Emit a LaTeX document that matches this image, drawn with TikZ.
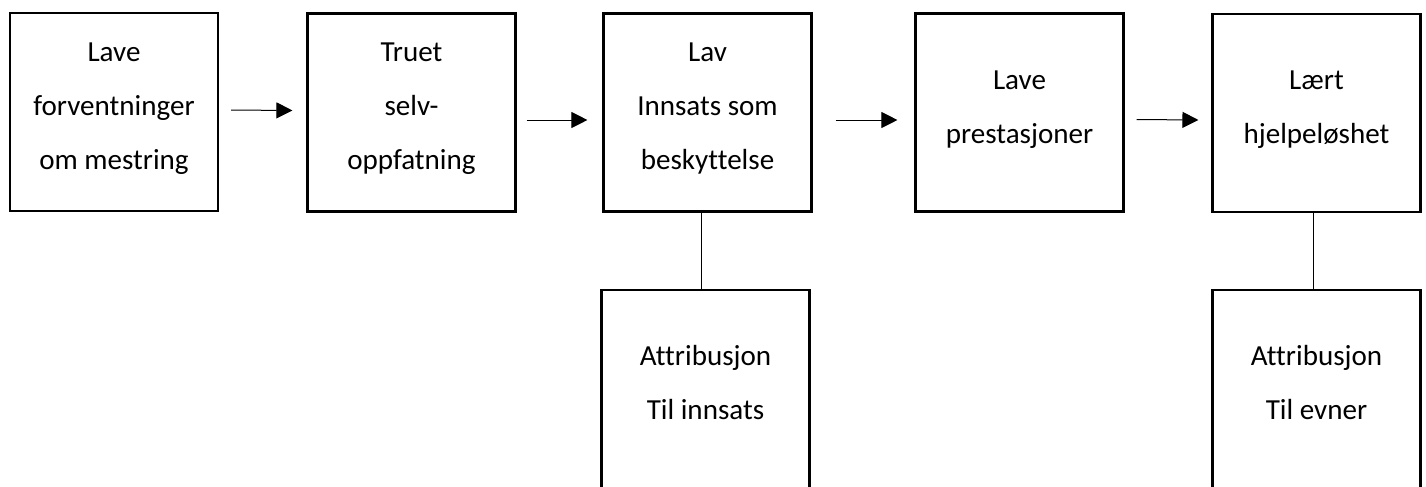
\documentclass[tikz,border=0pt]{standalone}
\usepackage{fontspec}
\setmainfont[Ligatures={NoCommon}]{Carlito}
\usetikzlibrary{arrows.meta,positioning}
\tikzset{
  box/.style={draw, line width=1.6pt, minimum width=156pt, minimum height=148.5pt},
  lowbox/.style={box, minimum height=187.5pt},
  txt/.style={anchor=north, align=center, inner sep=0pt, font=\fontsize{21.8}{40.5}\selectfont},
  arrow/.style={-{Triangle[length=12pt,width=12pt]}, line width=0.75pt},
  link/.style={line width=0.75pt}
}
\begin{document}
\begin{tikzpicture}[x=0.75pt, y=-0.75pt]
  \clip (0,0) rectangle (1426,486);
  % Bokser
  \node[box] (b1) at (114,112) {};
  \node[box] (b2) at (411.5,112.5) {};
  \node[box] (b3) at (707.5,112.5) {};
  \node[box] (b4) at (1019.5,112.5) {};
  \node[box] (b5) at (1316.5,113) {};
  \node[lowbox] (b6) at (705.5,415) {};
  \node[lowbox] (b7) at (1316.5,415) {};

  % Tekst
  \node[txt] (t1) at (114,43) {Lave\\forventninger\\om mestring};
  \node[txt] (t2) at (411.5,43) {Truet\\selv-\\oppfatning};
  \node[txt] (t3) at (707.5,43) {Lav\\Innsats som\\beskyttelse};
  \node[txt] (t4) at (1019.5,71) {Lave\\prestasjoner};
  \node[txt] (t5) at (1316.5,71) {Lært\\hjelpeløshet};
  \node[txt] (t6) at (705.5,345) {Attribusjon\\Til innsats};
  \node[txt] (t7) at (1316.5,345) {Attribusjon\\Til evner};

  % Piler
  \draw[arrow] ([shift={(12,-2)}]b1.east) -- ([shift={(-14,-2)}]b2.west);
  \draw[arrow] ([shift={(10,7.5)}]b2.east) -- ([shift={(-15,7.5)}]b3.west);
  \draw[arrow] ([shift={(23,7.5)}]b3.east) -- ([shift={(-17,7.5)}]b4.west);
  \draw[arrow] ([shift={(12,7)}]b4.east) -- ([shift={(-13,7)}]b5.west);

  % Linjer
  \draw[link] ([xshift=-4.5pt]b3.south) -- ([xshift=-4.5pt]b3.south |- b6.north);
  \draw[link] ([xshift=-2.5pt]b5.south) -- ([xshift=-2.5pt]b5.south |- b7.north);
\end{tikzpicture}
\end{document}
